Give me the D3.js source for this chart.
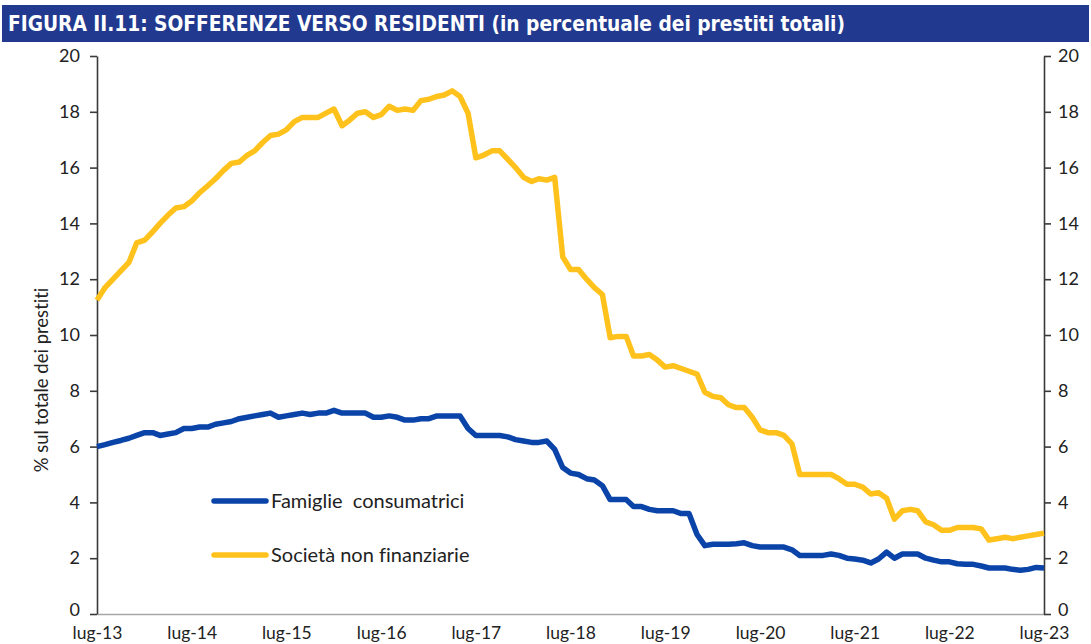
<!DOCTYPE html>
<html><head><meta charset="utf-8">
<script src="https://cdn.jsdelivr.net/npm/d3@7"></script>
<style>
html,body{margin:0;padding:0;background:#fff;}
svg{display:block;}
text{font-variant-ligatures:none;font-feature-settings:"liga" 0;}
</style></head>
<body>
<svg id="chart" width="1091" height="644"></svg>
<script>
const title = "FIGURA II.11: SOFFERENZE VERSO RESIDENTI (in percentuale dei prestiti totali)";
const yLabel = "% sul totale dei prestiti";
const seriesNames = ["Famiglie  consumatrici", "Società non finanziarie"];
const xTickLabels = ["lug-13","lug-14","lug-15","lug-16","lug-17","lug-18","lug-19","lug-20","lug-21","lug-22","lug-23"];
const yTicks = [0,2,4,6,8,10,12,14,16,18,20];
const startYear = 2013, startMonth = 6; // luglio 2013

// Famiglie consumatrici (monthly, lug-13 .. lug-23)
const famiglie = [
 6.0,6.07,6.15,6.22,6.3,6.4,6.5,6.5,6.4,6.45,6.5,6.65,
 6.65,6.7,6.7,6.8,6.85,6.9,7.0,7.05,7.1,7.15,7.2,7.05,
 7.1,7.15,7.2,7.15,7.2,7.2,7.3,7.2,7.2,7.2,7.2,7.05,
 7.05,7.1,7.05,6.95,6.95,7.0,7.0,7.1,7.1,7.1,7.1,6.65,
 6.4,6.4,6.4,6.4,6.35,6.25,6.2,6.15,6.15,6.2,5.9,5.25,
 5.05,5.0,4.85,4.8,4.6,4.1,4.1,4.1,3.85,3.85,3.75,3.7,
 3.7,3.7,3.6,3.6,2.85,2.45,2.5,2.5,2.5,2.52,2.55,2.45,
 2.4,2.4,2.4,2.4,2.3,2.1,2.1,2.1,2.1,2.15,2.1,2.0,
 1.97,1.93,1.83,1.97,2.22,2.0,2.15,2.15,2.15,2.0,1.93,1.87,
 1.87,1.8,1.78,1.78,1.72,1.65,1.65,1.65,1.6,1.57,1.6,1.67,
 1.65
];
// Società non finanziarie
const societa = [
 11.25,11.7,12.0,12.3,12.6,13.3,13.4,13.7,14.0,14.3,14.55,14.6,
 14.8,15.1,15.35,15.6,15.9,16.15,16.2,16.45,16.6,16.9,17.15,17.2,
 17.35,17.65,17.8,17.8,17.8,17.95,18.1,17.5,17.7,17.95,18.0,17.8,
 17.9,18.2,18.05,18.1,18.05,18.4,18.45,18.55,18.6,18.75,18.55,17.95,
 16.35,16.45,16.6,16.6,16.3,16.0,15.65,15.5,15.6,15.55,15.65,12.8,
 12.35,12.35,12.0,11.7,11.45,9.9,9.95,9.95,9.25,9.25,9.3,9.1,
 8.85,8.9,8.8,8.7,8.6,7.95,7.8,7.75,7.5,7.4,7.4,7.05,
 6.6,6.5,6.5,6.4,6.1,5.0,5.0,5.0,5.0,5.0,4.85,4.65,
 4.65,4.55,4.3,4.35,4.15,3.4,3.7,3.75,3.7,3.3,3.2,3.0,
 3.0,3.1,3.1,3.1,3.05,2.65,2.7,2.75,2.7,2.75,2.8,2.85,
 2.9
];
const colors = ["#0a44a8", "#ffc21c"];

const svg = d3.select("#chart");
const mLeft = 97, mRight = 1044, mTop = 56, mBottom = 614;

// title bar
svg.append("rect").attr("x", 2).attr("y", 5).attr("width", 1087).attr("height", 37).attr("fill", "#213a8f");
svg.append("text").attr("x", 8).attr("y", 31)
  .attr("font-family", "'Liberation Sans Narrow','DejaVu Sans Condensed','Roboto Condensed',sans-serif")
  .attr("font-weight", "bold").attr("font-size", 21).attr("fill", "#fff")
  .attr("textLength", 837).attr("lengthAdjust", "spacingAndGlyphs")
  .text(title);

const dates = famiglie.map((_, i) => new Date(startYear, startMonth + i, 1));
const x = d3.scaleTime().domain([dates[0], dates[dates.length - 1]]).range([mLeft, mRight]);
const y = d3.scaleLinear().domain([0, 20]).range([mBottom, mTop]);

const font = "Lato, 'Open Sans', sans-serif";
const axisCol = "#3a3a3a";

// bottom axis (grey line)
const xTickDates = xTickLabels.map((_, k) => new Date(startYear + k, startMonth, 1));
const xAxis = d3.axisBottom(x).tickValues(xTickDates).tickSize(0).tickPadding(13)
  .tickFormat((d, k) => xTickLabels[k]);
const gx = svg.append("g").attr("transform", `translate(0,${mBottom})`).call(xAxis);
gx.select(".domain").attr("stroke", "#a6a6a6").attr("stroke-width", 1.5);
gx.selectAll("text").attr("font-family", font).attr("font-size", 17.5).attr("fill", "#222");

// left axis
const yAxisL = d3.axisLeft(y).tickValues(yTicks).tickSize(7).tickSizeOuter(0).tickPadding(10);
const gl = svg.append("g").attr("transform", `translate(${mLeft},0)`).call(yAxisL);
gl.select(".domain").attr("stroke", axisCol).attr("stroke-width", 1.6);
gl.selectAll(".tick line").attr("stroke", axisCol).attr("stroke-width", 1.6);
gl.selectAll("text").attr("font-family", font).attr("font-size", 18).attr("fill", "#222");

// right axis
const yAxisR = d3.axisRight(y).tickValues(yTicks).tickSize(7).tickSizeOuter(0).tickPadding(7);
const gr = svg.append("g").attr("transform", `translate(${mRight},0)`).call(yAxisR);
gr.select(".domain").attr("stroke", axisCol).attr("stroke-width", 1.6);
gr.selectAll(".tick line").attr("stroke", axisCol).attr("stroke-width", 1.6);
gr.selectAll("text").attr("font-family", font).attr("font-size", 18).attr("fill", "#222");

// nudge the "0" labels up slightly so they clear the month labels
gl.selectAll(".tick text").filter(d => d === 0).attr("dy", "0.1em");
gr.selectAll(".tick text").filter(d => d === 0).attr("dy", "0.1em");

// y label
svg.append("text").attr("transform", `translate(48,380) rotate(-90)`)
  .attr("text-anchor", "middle").attr("font-family", font).attr("font-size", 18.5).attr("fill", "#222")
  .text(yLabel);

// lines
const line = d3.line().x((d, i) => x(dates[i])).y(d => y(d));
[famiglie, societa].forEach((s, k) => {
  svg.append("path").datum(s).attr("d", line).attr("fill", "none")
    .attr("stroke", colors[k]).attr("stroke-width", 5.5).attr("stroke-linejoin", "round");
});

// legend
const legY = [501, 555];
seriesNames.forEach((n, k) => {
  svg.append("line").attr("x1", 214).attr("x2", 266).attr("y1", legY[k]).attr("y2", legY[k])
    .attr("stroke", colors[k]).attr("stroke-width", 5.5).attr("stroke-linecap", "round");
  svg.append("text").attr("x", 271).attr("y", legY[k] + 7).attr("font-family", font)
    .attr("font-size", 20).attr("fill", "#222").style("white-space", "pre").text(n);
});
</script>
</body></html>
